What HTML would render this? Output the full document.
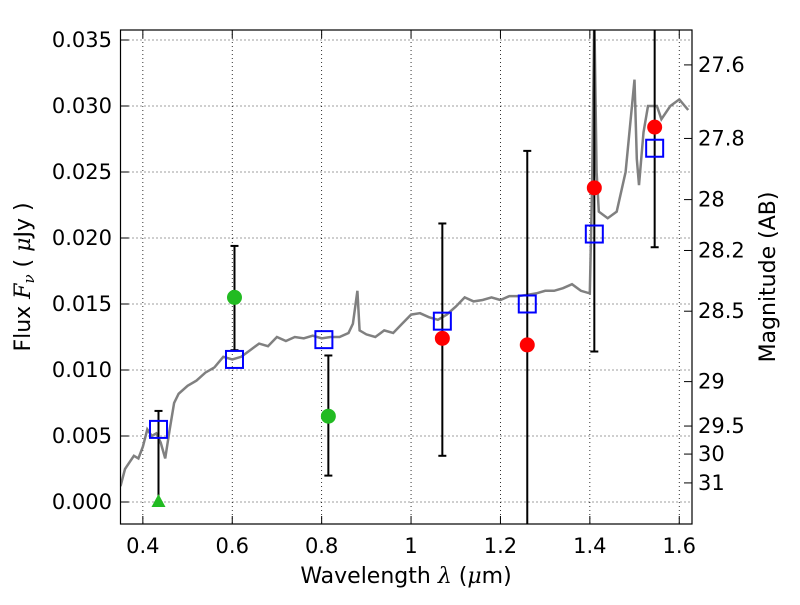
<!DOCTYPE html>
<html><head><meta charset="utf-8"><style>
body{margin:0;background:#fff}
svg text{font-family:"DejaVu Sans","Liberation Sans",sans-serif;fill:#000}
</style></head><body>
<svg id="chart" width="800" height="600" viewBox="0 0 800 600" xmlns="http://www.w3.org/2000/svg">
<g id="grid"></g>
<g id="spec"></g>
<g id="marks"></g>
<rect x="120.5" y="30" width="571.5" height="494" fill="none" stroke="#000" stroke-width="1.2"/>
<g id="axes"></g>
<text x="406" y="583" font-size="22" text-anchor="middle">Wavelength  <tspan font-style="italic" font-family="DejaVu Serif">λ</tspan> (<tspan font-style="italic" font-family="DejaVu Serif">μ</tspan>m)</text>
<text transform="translate(30,277) rotate(-90)" font-size="22" text-anchor="middle">Flux  <tspan font-style="italic" font-family="DejaVu Serif">F<tspan font-size="15" dy="4">ν</tspan></tspan><tspan dy="-4">  ( </tspan><tspan font-style="italic" font-family="DejaVu Serif">μ</tspan>Jy )</text>
<text transform="translate(775,277) rotate(-90)" font-size="22" text-anchor="middle">Magnitude (AB)</text>
</svg>
<script>
const xTicks=[0.4,0.6,0.8,1.0,1.2,1.4,1.6];
const xTickLabels=["0.4","0.6","0.8","1","1.2","1.4","1.6"];
const yTicks=[0,0.005,0.01,0.015,0.02,0.025,0.03,0.035];
const yTickLabels=["0.000","0.005","0.010","0.015","0.020","0.025","0.030","0.035"];
const magTicks=[27.6,27.8,28,28.2,28.5,29,29.5,30,31];
const magLabels=["27.6","27.8","28","28.2","28.5","29","29.5","30","31"];
const specWave=[0.35,0.36,0.37,0.38,0.39,0.40,0.41,0.42,0.43,0.44,0.45,0.46,0.47,0.48,0.50,0.52,0.54,0.56,0.58,0.60,0.62,0.64,0.66,0.68,0.70,0.72,0.74,0.76,0.78,0.80,0.82,0.84,0.86,0.87,0.88,0.885,0.90,0.92,0.94,0.96,0.98,1.00,1.02,1.04,1.06,1.08,1.10,1.12,1.14,1.16,1.18,1.20,1.22,1.24,1.26,1.28,1.30,1.32,1.34,1.36,1.38,1.40,1.405,1.41,1.415,1.42,1.44,1.46,1.48,1.50,1.505,1.51,1.52,1.53,1.55,1.56,1.58,1.60,1.62];
const specFlux=[0.0012,0.0025,0.003,0.0035,0.0033,0.0042,0.0055,0.005,0.0052,0.0045,0.0033,0.0055,0.0075,0.0082,0.0088,0.0092,0.0098,0.0102,0.011,0.0108,0.011,0.0115,0.012,0.0118,0.0125,0.0122,0.0125,0.0124,0.0126,0.0124,0.0125,0.0125,0.0128,0.0135,0.016,0.013,0.0127,0.0125,0.013,0.0128,0.0135,0.0142,0.0143,0.014,0.0138,0.0142,0.0148,0.0155,0.0152,0.0153,0.0155,0.0153,0.0156,0.0156,0.0157,0.0158,0.016,0.016,0.0162,0.0165,0.016,0.0158,0.024,0.037,0.025,0.022,0.0215,0.022,0.025,0.032,0.026,0.024,0.028,0.030,0.030,0.029,0.030,0.0305,0.0297];
const modelWave=[0.435,0.605,0.805,1.07,1.26,1.41,1.545];
const modelFlux=[0.0055,0.0108,0.0123,0.0137,0.0150,0.0203,0.0268];
const redWave=[1.07,1.26,1.41,1.545];
const redFlux=[0.0124,0.0119,0.0238,0.0284];
const greenWave=[0.605,0.815];
const greenFlux=[0.0155,0.0065];
const limitWave=[0.435];
const limitFlux=[0.0];
const errWave=[0.435,0.605,0.815,1.07,1.26,1.41,1.545];
const errLow=[0.0,0.0115,0.0020,0.0035,-0.003,0.0114,0.0193];
const errHigh=[0.0069,0.0194,0.0111,0.0211,0.0266,0.04,0.04];

const X=v=>120.5+(v-0.35)*447;
const Y=v=>502-v*13200;
const NS="http://www.w3.org/2000/svg";
function mk(parent,tag,attrs){const e=document.createElementNS(NS,tag);for(const k in attrs)e.setAttribute(k,attrs[k]);document.getElementById(parent).appendChild(e);return e;}
xTicks.forEach((t,i)=>{
 const g=mk('grid','line',{x1:X(t),x2:X(t),y1:30,y2:524,stroke:'#000','stroke-dasharray':'1,3','stroke-width':0.8});
 
 mk('axes','line',{x1:X(t),x2:X(t),y1:524,y2:516,stroke:'#000'});
 mk('axes','line',{x1:X(t),x2:X(t),y1:30,y2:38,stroke:'#000'});
 const l=mk('axes','text',{x:X(t),y:553,'font-size':21,'text-anchor':'middle'});l.textContent=xTickLabels[i];
 
});
yTicks.forEach((t,i)=>{
 const g=mk('grid','line',{x1:120.5,x2:692,y1:Y(t),y2:Y(t),stroke:'#000','stroke-dasharray':'1,3','stroke-width':0.8});
 
 mk('axes','line',{x1:120.5,x2:128.5,y1:Y(t),y2:Y(t),stroke:'#000'});
 const l=mk('axes','text',{x:112,y:Y(t)+7,'font-size':21,'text-anchor':'end'});l.textContent=yTickLabels[i];
 
});
magTicks.forEach((m,i)=>{
 const y=Y(Math.pow(10,(23.9-m)/2.5));
 mk('axes','line',{x1:684,x2:692,y1:y,y2:y,stroke:'#000'});
 const l=mk('axes','text',{x:698,y:y+7,'font-size':21});l.textContent=magLabels[i];
 
});
const cp=mk('spec','clipPath',{id:'clip'});const cr=document.createElementNS(NS,'rect');
['x','y','width','height'].forEach((k,i)=>cr.setAttribute(k,[120.5,30,571.5,494][i]));cp.appendChild(cr);
const sp=mk('spec','path',{d:specWave.map((w,i)=>(i?'L':'M')+X(w).toFixed(1)+','+Y(specFlux[i]).toFixed(1)).join(''),fill:'none',stroke:'#808080','stroke-width':2.5,'clip-path':'url(#clip)'});

const eg=mk('marks','g',{'clip-path':'url(#clip)'});eg.id='errs';
errWave.forEach((w,i)=>{
 const x=X(w);
 const e=mk('errs','line',{x1:x,x2:x,y1:Y(errLow[i]),y2:Y(errHigh[i]),stroke:'#000','stroke-width':2});
 
 [errLow[i],errHigh[i]].forEach(v=>mk('errs','line',{x1:x-4,x2:x+4,y1:Y(v),y2:Y(v),stroke:'#000','stroke-width':2}));
});
modelWave.forEach((w,i)=>{
 const r=mk('marks','rect',{x:X(w)-8.5,y:Y(modelFlux[i])-8.5,width:17,height:17,fill:'none',stroke:'#0000ff','stroke-width':2});
 
});
redWave.forEach((w,i)=>{
 const c=mk('marks','circle',{cx:X(w),cy:Y(redFlux[i]),r:7.5,fill:'#ff0000'});
 
});
greenWave.forEach((w,i)=>{
 const c=mk('marks','circle',{cx:X(w),cy:Y(greenFlux[i]),r:7.5,fill:'#22bb22'});
 
});
limitWave.forEach((w,i)=>{
 const x=X(w),y=Y(limitFlux[i]);
 const t=mk('marks','polygon',{points:`${x},${y-8} ${x-7},${y+5} ${x+7},${y+5}`,fill:'#22bb22'});
 
});
</script>
</body></html>
